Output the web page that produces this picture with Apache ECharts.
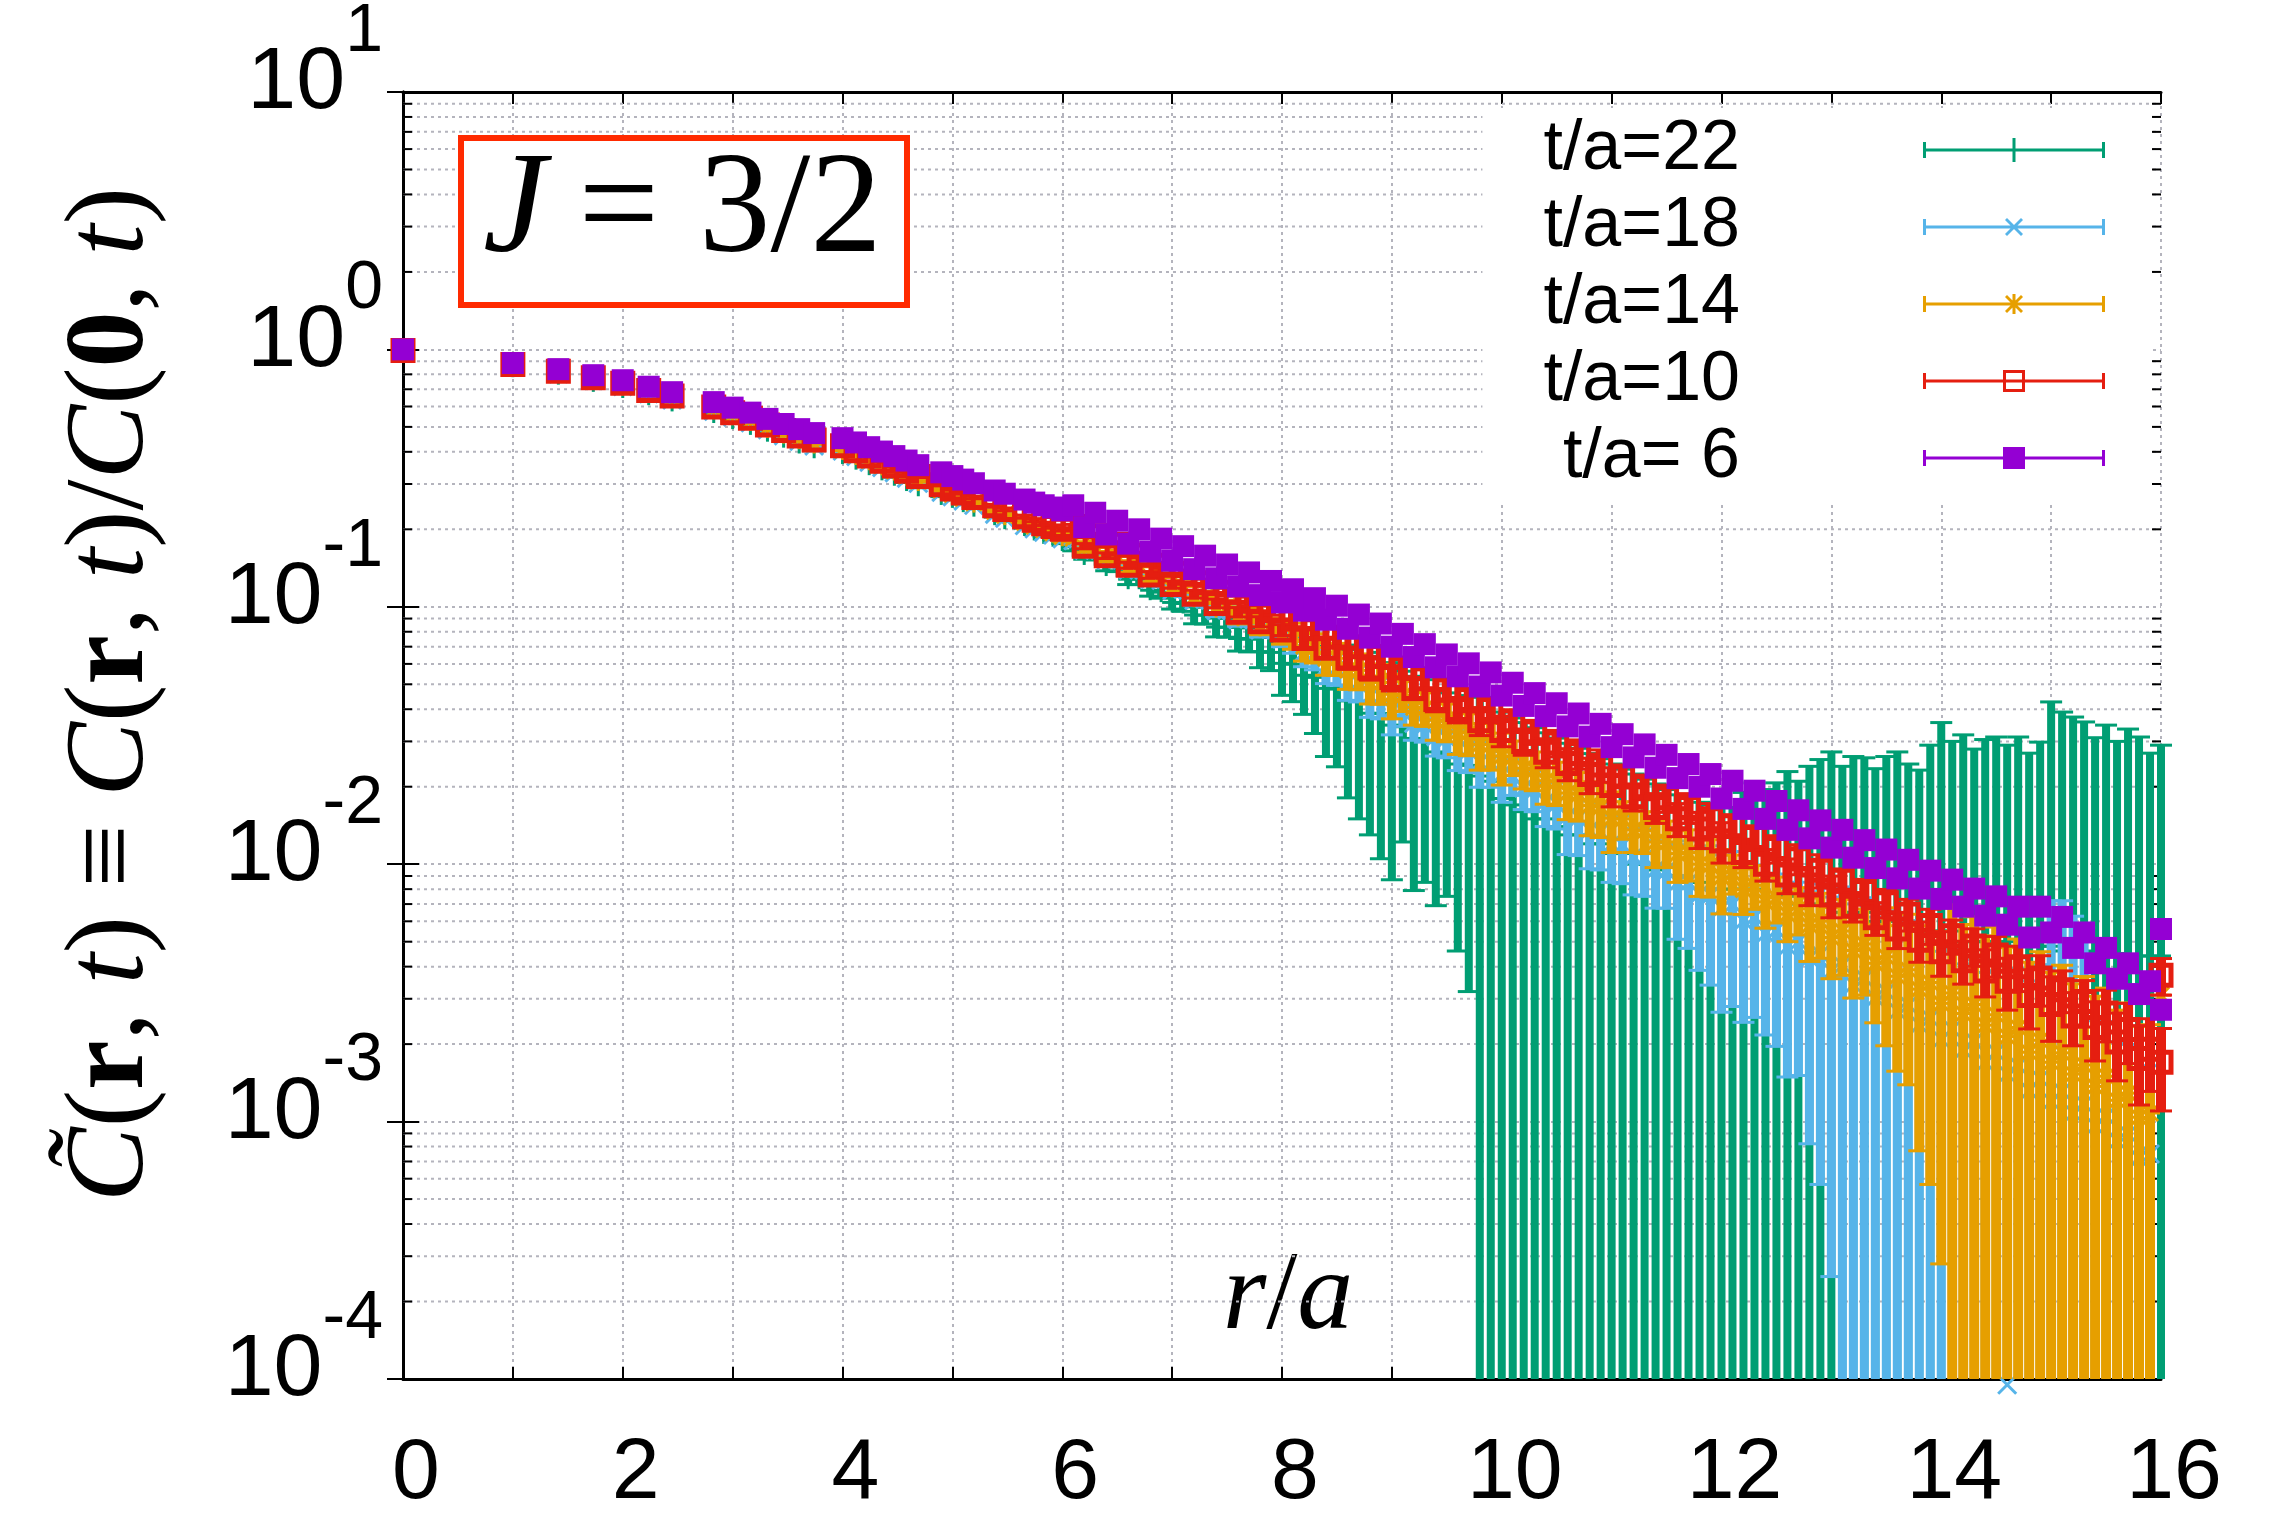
<!DOCTYPE html>
<html><head><meta charset="utf-8">
<script src="https://cdn.jsdelivr.net/npm/echarts@6/dist/echarts.min.js"></script>
<style>html,body{margin:0;padding:0;background:#fff}#c{width:2284px;height:1521px}</style>
</head><body><div id="c"></div>
<script>
// r/a positions (lattice distances, then dense part), plus two edge points at the end
const r = [0,1,1.414,1.732,2,2.236,2.449,2.828,3,3.162,3.317,3.464,3.606,3.742,4,4.123,4.243,4.359,4.472,4.583,4.69,4.899,5,5.099,5.196,5.385,5.477,5.657,5.745,5.831,5.916,6,
6.1,6.2,6.3,6.4,6.5,6.6,6.7,6.8,6.9,7,
7.1,7.2,7.3,7.4,7.5,7.6,7.7,7.8,7.9,8,
8.1,8.2,8.3,8.4,8.5,8.6,8.7,8.8,8.9,9,
9.1,9.2,9.3,9.4,9.5,9.6,9.7,9.8,9.9,10,
10.1,10.2,10.3,10.4,10.5,10.6,10.7,10.8,10.9,11,
11.1,11.2,11.3,11.4,11.5,11.6,11.7,11.8,11.9,12,
12.1,12.2,12.3,12.4,12.5,12.6,12.7,12.8,12.9,13,
13.1,13.2,13.3,13.4,13.5,13.6,13.7,13.8,13.9,14,
14.1,14.2,14.3,14.4,14.5,14.6,14.7,14.8,14.9,15,
15.1,15.2,15.3,15.4,15.5,15.6,15.7,15.8,15.9,16,
16,14.6];

// t/a = 6 (purple, filled squares)
const t6 = [1.0,0.885,0.838,0.794,0.759,0.716,0.682,0.624,0.594,0.568,0.537,0.513,0.49,0.473,0.452,0.435,0.417,0.401,0.385,0.37,0.355,0.333,0.322,0.312,0.302,0.283,0.275,0.261,0.254,0.248,0.243,0.237,
0.248,0.204,0.232,0.191,0.216,0.176,0.200,0.164,0.184,0.151,
0.172,0.140,0.158,0.129,0.146,0.120,0.136,0.111,0.126,0.104,
0.117,0.0966,0.108,0.0891,0.101,0.0822,0.0933,0.0759,0.0861,0.0700,
0.0785,0.0638,0.0716,0.0582,0.0653,0.0537,0.0603,0.0490,0.0556,0.0452,
0.0507,0.0412,0.0462,0.0376,0.0422,0.0343,0.0385,0.0313,0.0351,0.0285,
0.0320,0.0260,0.0292,0.0237,0.0266,0.0216,0.0245,0.0200,0.0224,0.0180,
0.0211,0.0164,0.0193,0.0150,0.0176,0.0136,0.0162,0.0126,0.0148,0.0116,
0.0136,0.0106,0.0124,0.00966,0.0114,0.00881,0.0104,0.00804,0.00944,0.00733,
0.00871,0.00684,0.00804,0.00631,0.00750,0.00582,0.00684,0.00519,0.00684,0.00543,
0.00624,0.00473,0.00543,0.00412,0.00473,0.00359,0.00412,0.00313,0.00351,0.00272,
0.0056,null];

// t/a = 10 (red, open squares)
const t10 = [0.991,0.873,0.822,0.776,0.738,0.693,0.659,0.597,0.568,0.54,0.509,0.484,0.461,0.445,0.422,0.404,0.385,0.368,0.352,0.336,0.321,0.298,0.287,0.277,0.266,0.247,0.239,0.224,0.217,0.21,0.205,0.2,
0.205,0.172,0.189,0.158,0.175,0.145,0.159,0.133,0.145,0.122,
0.135,0.112,0.124,0.103,0.114,0.0953,0.105,0.0875,0.0968,0.0813,
0.0897,0.0753,0.0822,0.0690,0.0762,0.0632,0.0700,0.0579,0.0641,0.0531,
0.0579,0.0481,0.0525,0.0436,0.0475,0.0399,0.0436,0.0361,0.0399,0.0331,
0.0361,0.0300,0.0327,0.0272,0.0296,0.0246,0.0269,0.0223,0.0243,0.0202,
0.0220,0.0183,0.0200,0.0166,0.0181,0.0150,0.0166,0.0137,0.0150,0.0123,
0.0141,0.0111,0.0127,0.0100,0.0115,0.00908,0.0105,0.00830,0.00948,0.00759,
0.00867,0.00686,0.00783,0.00619,0.00708,0.00560,0.00640,0.00506,0.00578,0.00457,
0.00527,0.00422,0.00481,0.00385,0.00444,0.00351,0.00400,0.00309,0.00361,0.00285,
0.00325,0.00257,0.00293,0.00232,0.00264,0.00204,0.00228,0.00176,0.00191,0.0017,
0.0037,null];
const t10Err = [0.004,0.004,0.004,0.004,0.004,0.004,0.004,0.004,0.004,0.004,0.004,0.004,0.004,0.004,0.003,0.003,0.003,0.003,0.003,0.003,0.003,0.003,0.003,0.003,0.003,0.003,0.003,0.003,0.003,0.003,0.003,0.003,
0.004,0.004,0.004,0.004,0.004,0.004,0.004,0.004,0.004,0.004,
0.004,0.004,0.004,0.004,0.004,0.004,0.004,0.004,0.004,0.004,
0.006,0.006,0.006,0.006,0.006,0.006,0.006,0.006,0.006,0.006,
0.0045,0.0045,0.0045,0.0045,0.0045,0.0045,0.0045,0.0045,0.0045,0.0045,
0.0035,0.0035,0.0035,0.0035,0.0035,0.0035,0.0035,0.0035,0.0035,0.0035,
0.0022,0.0022,0.0022,0.0022,0.0022,0.0022,0.0022,0.0022,0.0022,0.0022,
0.0014,0.0014,0.0014,0.0014,0.0014,0.0014,0.0014,0.0014,0.0014,0.0014,
0.0009,0.0009,0.0009,0.0009,0.0009,0.0009,0.0009,0.0009,0.0009,0.0009,
0.0008,0.0008,0.0008,0.0008,0.0008,0.0008,0.0008,0.0008,0.0008,0.0008,
0.0006,0.0006,0.0006,0.0006,0.0006,0.0006,0.0006,0.0006,0.0006,0.0006,
0.0006,0];

// t/a = 14 (orange, asterisks)
const t14 = [0.986,0.865,0.813,0.767,0.724,0.681,0.646,0.585,0.555,0.527,0.495,0.471,0.448,0.431,0.407,0.389,0.371,0.354,0.338,0.323,0.308,0.285,0.274,0.264,0.254,0.235,0.227,0.213,0.206,0.2,0.194,0.188,
0.185,0.169,0.170,0.156,0.157,0.142,0.143,0.131,0.130,0.119,
0.120,0.109,0.109,0.0993,0.100,0.0918,0.0925,0.0839,0.0845,0.0776,
0.0774,0.0705,0.0695,0.0632,0.0631,0.0568,0.0566,0.0509,0.0508,0.0457,
0.0452,0.0407,0.0403,0.0363,0.0359,0.0327,0.0324,0.0292,0.0292,0.0263,
0.0261,0.0236,0.0233,0.0211,0.0209,0.0189,0.0187,0.0169,0.0167,0.0151,
0.0150,0.0136,0.0135,0.0122,0.0122,0.0110,0.0111,0.0100,0.00995,0.00891,
0.00925,0.00798,0.00828,0.00714,0.00741,0.00640,0.00671,0.00579,0.00601,0.00519,
0.00550,0.00462,0.00490,0.00412,0.00437,0.00367,0.00389,0.00327,0.00347,0.00288,
0.00316,0.00263,0.00285,0.00237,0.00260,0.00214,0.00232,0.00186,0.00207,0.00170,
0.00185,0.00153,0.00166,0.00137,0.00150,0.00121,0.00129,0.00104,0.00108,0.0031,
null,null];
const t14Err = [0.003,0.003,0.003,0.003,0.003,0.003,0.003,0.003,0.003,0.003,0.003,0.003,0.003,0.003,0.003,0.003,0.003,0.003,0.003,0.003,0.003,0.003,0.003,0.003,0.003,0.003,0.003,0.003,0.003,0.003,0.003,0.003,
0.006,0.006,0.006,0.006,0.006,0.006,0.006,0.006,0.006,0.006,
0.006,0.006,0.006,0.006,0.006,0.006,0.006,0.006,0.006,0.006,
0.009,0.009,0.009,0.009,0.009,0.009,0.009,0.009,0.009,0.009,
0.006,0.006,0.006,0.006,0.006,0.006,0.006,0.006,0.006,0.006,
0.004,0.004,0.004,0.004,0.004,0.004,0.004,0.004,0.004,0.004,
0.0025,0.0025,0.0025,0.0025,0.0025,0.0025,0.0025,0.0025,0.0025,0.0025,
0.0016,0.0016,0.0016,0.0015,0.0015,0.0014,0.0014,0.0016,0.0017,0.0016,
0.0018,0.0016,0.0018,0.0017,0.0024,0.0021,0.0025,0.0025,0.0029,0.0026,
0.0038,0.0032,0.0034,0.0029,0.0031,0.0026,0.0028,0.0023,0.0025,0.0021,
0.0022,0.0019,0.002,0.0017,0.0018,0.0015,0.0016,0.0013,0.0013,0,
0,0];

// t/a = 18 (light blue, crosses)
const t18 = [0.982,0.861,0.805,0.759,0.718,0.673,0.637,0.575,0.547,0.519,0.488,0.462,0.44,0.422,0.403,0.384,0.365,0.348,0.332,0.316,0.302,0.279,0.268,0.258,0.248,0.229,0.221,0.207,0.201,0.195,0.19,0.184,
0.181,0.166,0.166,0.152,0.153,0.139,0.139,0.128,0.127,0.116,
0.117,0.106,0.107,0.0966,0.0973,0.0891,0.0897,0.0813,0.0818,0.0750,
0.0740,0.0665,0.0649,0.0583,0.0575,0.0513,0.0507,0.0452,0.0447,0.0398,
0.0393,0.0353,0.0348,0.0313,0.0309,0.0281,0.0277,0.0249,0.0249,0.0224,
0.0220,0.0198,0.0195,0.0175,0.0172,0.0154,0.0152,0.0136,0.0134,0.0120,
0.0119,0.0107,0.0106,0.00955,0.00944,0.00851,0.00851,0.00767,0.00759,0.00676,
0.00700,0.00603,0.00624,0.00537,0.00556,0.00479,0.00501,0.00432,0.00447,0.00385,
0.00406,0.00341,0.00361,0.00303,0.00320,0.00269,0.00284,0.00238,0.00252,0.00209,
0.00229,0.00190,0.00205,0.00170,0.00186,0.00153,0.00165,0.00132,0.00147,0.00120,
0.00131,0.00108,0.00117,0.000964,0.00105,0.000843,0.000895,0.000721,0.000748,null,
null,0.000095];
const t18Err = [0.003,0.003,0.003,0.003,0.003,0.003,0.003,0.003,0.003,0.003,0.003,0.003,0.003,0.003,0.003,0.003,0.003,0.003,0.003,0.003,0.003,0.003,0.003,0.003,0.003,0.003,0.003,0.003,0.003,0.003,0.003,0.003,
0.005,0.005,0.005,0.005,0.005,0.005,0.005,0.005,0.005,0.005,
0.005,0.005,0.005,0.005,0.005,0.005,0.005,0.005,0.005,0.005,
0.008,0.008,0.008,0.008,0.008,0.008,0.008,0.008,0.008,0.008,
0.005,0.005,0.005,0.005,0.005,0.005,0.005,0.005,0.005,0.005,
0.0035,0.0035,0.0035,0.0035,0.0035,0.0045,0.0044,0.004,0.0039,0.0035,
0.0035,0.0031,0.0031,0.0028,0.0027,0.0034,0.0038,0.0038,0.0042,0.0041,
0.0042,0.0036,0.0037,0.0032,0.0036,0.0033,0.0035,0.0035,0.0039,0.0036,
0.0041,0.0036,0.0038,0.0032,0.0034,0.0035,0.0032,0.0032,0.0028,0.0025,
0.0024,0.0022,0.0022,0.0021,0.002,0.0021,0.0023,0.0022,0.0026,0.006,
0.0059,0.0052,0.0045,0.0015,0.0014,0.0012,0.0011,0.0009,0.0009,0,
0,0];

// t/a = 22 (green, plus)
const t22 = [0.977,0.853,0.798,0.748,0.708,0.664,0.628,0.566,0.536,0.509,0.479,0.454,0.431,0.413,0.392,0.373,0.355,0.339,0.323,0.308,0.294,0.272,0.265,0.255,0.245,0.227,0.219,0.206,0.198,0.192,0.187,0.18,
0.171,0.159,0.158,0.144,0.143,0.128,0.128,0.116,0.114,0.104,
0.103,0.0929,0.0927,0.0834,0.0832,0.0753,0.0748,0.0670,0.0665,0.0603,
0.0598,0.0542,0.0532,0.0482,0.0479,0.0431,0.0430,0.0386,0.0385,0.0347,
0.0342,0.0308,0.0303,0.0273,0.0269,0.0245,0.0242,0.022,0.021,0.018,
0.017,0.016,0.015,0.015,0.014,0.013,0.013,0.012,0.012,0.011,
0.011,0.010,0.010,0.0095,0.009,0.009,0.0085,0.0085,0.008,0.008,
0.008,0.008,0.008,0.0075,0.0075,0.0075,0.007,0.007,0.007,0.007,
0.0065,0.0065,0.0065,0.006,0.006,0.006,0.006,0.0055,0.0055,0.0055,
0.0055,0.005,0.005,0.005,0.005,0.005,0.0048,0.0048,0.0048,0.0048,
0.0046,0.0046,0.0046,0.0045,0.0045,0.0045,0.0044,0.0044,0.0044,0.0044,
null,null];
const t22Err = [0.004,0.004,0.004,0.004,0.004,0.004,0.004,0.004,0.004,0.004,0.004,0.004,0.004,0.004,0.004,0.004,0.004,0.004,0.004,0.004,0.004,0.004,0.004,0.004,0.004,0.004,0.004,0.004,0.004,0.004,0.004,0.004,
0.006,0.006,0.006,0.006,0.006,0.006,0.006,0.006,0.006,0.006,
0.007,0.007,0.007,0.007,0.007,0.008,0.008,0.009,0.010,0.015,
0.017,0.016,0.021,0.022,0.024,0.025,0.028,0.0256,0.028,0.026,
0.022,0.0229,0.0218,0.0204,0.0194,0.0199,0.021,0.0225,0.023,0.021,
0.02,0.0195,0.0189,0.0174,0.0169,0.0165,0.0152,0.0149,0.0137,0.0135,
0.0124,0.0124,0.0114,0.011,0.0105,0.0096,0.0097,0.0089,0.009,0.0086,
0.0086,0.011,0.0127,0.012,0.0132,0.0154,0.014,0.017,0.0185,0.0203,
0.0175,0.0197,0.0194,0.0175,0.0202,0.0213,0.0185,0.0177,0.0235,0.03,
0.0245,0.0268,0.023,0.0255,0.0262,0.024,0.0264,0.0222,0.025,0.0379,
0.0344,0.0327,0.0311,0.0265,0.0302,0.0255,0.0291,0.0268,0.0226,0.0246,
0,0];

const xTicks = [0,2,4,6,8,10,12,14,16];

const seriesDefs = [
  {name:'t/a=22', vals:t22, errs:t22Err, color:'#009e73', mark:'plus',   barW:8},
  {name:'t/a=18', vals:t18, errs:t18Err, color:'#56b4e9', mark:'cross',  barW:9},
  {name:'t/a=14', vals:t14, errs:t14Err, color:'#e69f00', mark:'star',   barW:10},
  {name:'t/a=10', vals:t10, errs:t10Err, color:'#e51e10', mark:'open',   barW:10},
  {name:'t/a= 6', vals:t6,  errs:null,   color:'#9400d3', mark:'filled', barW:8}
];

const GRID_C = '#b4b4bd';
const CAP_W = 22, CAP_LW = 3, MK_LW = 3;

const ICON_BASE = 'M0 11.5h182v3H0zM0 5h3v16H0zM179 5h3v16h-3z';
const ICON_CROSS = 'M82 6L84 4L100 20L98 22ZM98 4L100 6L84 22L82 20Z';
const ICONS = {
  plus: 'path://' + ICON_BASE + 'M89.5 1h3v24h-3z',
  cross: 'path://' + ICON_BASE + ICON_CROSS,
  star: 'path://' + ICON_BASE + ICON_CROSS + 'M89.5 3h3v20h-3z',
  open: 'path://' + ICON_BASE + 'M80 2h22v22H80zM83 5v16h16V5z',
  filled: 'path://' + ICON_BASE + 'M80 2h22v22H80z'
};

function buildRender(mark, color, barW) {
  return function (params, api) {
    const x = api.value(0), v = api.value(1), e = api.value(2);
    const cs = params.coordSys;
    const top = cs.y, bottom = cs.y + cs.height;
    const p = api.coord([x, v]);
    const px = p[0], py = p[1];
    const ch = [];
    const ln = (x1, y1, x2, y2, w) => ({type:'line', shape:{x1, y1, x2, y2}, style:{stroke:color, lineWidth:w}});
    if (e > 0) {
      const hiY = api.coord([x, v + e])[1];
      const lo = v - e;
      const loY = lo > 0 ? api.coord([x, lo])[1] : bottom + 1000;
      const y1 = Math.max(hiY, top), y2 = Math.min(loY, bottom);
      if (y2 > y1) ch.push(ln(px, y1, px, y2, barW));
      [hiY, loY].forEach(yy => {
        if (yy >= top && yy <= bottom) ch.push(ln(px - CAP_W / 2, yy, px + CAP_W / 2, yy, CAP_LW));
      });
    }
    if (mark === 'plus') {
      ch.push(ln(px - 10, py, px + 10, py, MK_LW), ln(px, py - 10, px, py + 10, MK_LW));
    } else if (mark === 'cross') {
      ch.push(ln(px - 9, py - 9, px + 9, py + 9, MK_LW), ln(px - 9, py + 9, px + 9, py - 9, MK_LW));
    } else if (mark === 'star') {
      ch.push(ln(px - 10, py, px + 10, py, MK_LW), ln(px, py - 10, px, py + 10, MK_LW),
              ln(px - 8, py - 8, px + 8, py + 8, MK_LW), ln(px - 8, py + 8, px + 8, py - 8, MK_LW));
    } else if (mark === 'open') {
      ch.push({type:'rect', shape:{x:px - 10, y:py - 10, width:20, height:20}, style:{fill:'none', stroke:color, lineWidth:5}});
    } else {
      ch.push({type:'rect', shape:{x:px - 11, y:py - 11, width:22, height:22}, style:{fill:color}});
    }
    return {type:'group', children:ch};
  };
}

function items(vals, errs) {
  const out = [];
  for (let i = 0; i < r.length; i++) {
    if (vals[i] == null) continue;
    out.push([r[i], vals[i], errs ? (errs[i] || 0) : 0]);
  }
  return out;
}

// minor log ticks (2..9 x 10^k) for gnuplot-style grid
const minorTicks = [];
for (let k = -4; k <= 0; k++) for (let m = 2; m <= 9; m++) minorTicks.push(+(m * Math.pow(10, k)).toPrecision(2));

const series = [{
  type:'custom', silent:true, z:1, animation:false,
  data: minorTicks.map(v => [0, v]), encode:{x:0, y:1},
  renderItem: function (params, api) {
    const cs = params.coordSys;
    const y = api.coord([0, api.value(1)])[1];
    return {type:'group', children:[
      {type:'line', shape:{x1:cs.x, y1:y, x2:cs.x + cs.width, y2:y}, style:{stroke:GRID_C, lineWidth:2, lineDash:[3, 4]}},
      {type:'line', shape:{x1:cs.x, y1:y, x2:cs.x + 9, y2:y}, style:{stroke:'#000', lineWidth:2}},
      {type:'line', shape:{x1:cs.x + cs.width - 9, y1:y, x2:cs.x + cs.width, y2:y}, style:{stroke:'#000', lineWidth:2}}
    ]};
  }
}];
seriesDefs.forEach((d, i) => {
  series.push({
    type:'custom', name:d.name, silent:true, z:2 + i, animation:false,
    itemStyle:{color:d.color},
    data: items(d.vals, d.errs), encode:{x:0, y:1},
    renderItem: buildRender(d.mark, d.color, d.barW)
  });
});

const chart = echarts.init(document.getElementById('c'), null, {renderer:'canvas'});
chart.setOption({
  backgroundColor:'#fff',
  animation:false,
  textStyle:{fontFamily:'Liberation Sans'},
  title:{
    text:'{j|J}{e|=}{n|3/2}',
    left:461, top:138, padding:[4, 25, 20, 22],
    backgroundColor:'#fff', borderColor:'#ff2a00', borderWidth:6,
    textStyle:{fontWeight:'normal', fontFamily:'Liberation Serif', fontSize:143, rich:{
      j:{fontFamily:'Liberation Serif', fontStyle:'italic', fontWeight:'normal', fontSize:143, lineHeight:143, color:'#000'},
      e:{fontFamily:'Liberation Serif', fontWeight:'normal', fontSize:143, lineHeight:143, color:'#000', padding:[0, 40, 0, 32]},
      n:{fontFamily:'Liberation Serif', fontWeight:'normal', fontSize:143, lineHeight:143, color:'#000'}
    }}
  },
  legend:{
    orient:'vertical', right:132, top:108, align:'right',
    padding:[7, 47, 10, 61], itemGap:7, itemWidth:182, itemHeight:26,
    backgroundColor:'#fff', selectedMode:false,
    textStyle:{fontSize:70, fontFamily:'Liberation Sans', color:'#000', lineHeight:70, padding:[0, 178, 0, 0]},
    data: seriesDefs.map(d => ({name:d.name, icon:ICONS[d.mark]}))
  },
  grid:{left:403, right:123, top:92, bottom:142, containLabel:false, outerBoundsMode:'none'},
  xAxis:[{
    type:'value', min:0, max:16, interval:1, position:'bottom',
    axisLine:{show:true, onZero:false, lineStyle:{color:'#000', width:3}},
    axisTick:{show:true, inside:true, length:12, lineStyle:{color:'#000', width:2}},
    splitLine:{show:true, lineStyle:{color:GRID_C, width:2, type:[3, 4]}},
    axisLabel:{fontSize:86, fontFamily:'Liberation Sans', color:'#000', margin:52, padding:[0, 0, 0, 26],
      formatter: v => xTicks.indexOf(v) >= 0 ? String(v) : ''},
    name:'{i|r}/{i|a}', nameLocation:'middle', nameGap:-140,
    nameTextStyle:{fontFamily:'Liberation Serif', fontSize:112, lineHeight:120, color:'#000', padding:[0, 0, 0, 12],
      rich:{i:{fontFamily:'Liberation Serif', fontStyle:'italic', fontSize:112, lineHeight:120, color:'#000'}}}
  }, {
    type:'value', min:0, max:16, interval:1, position:'top',
    axisLine:{show:true, onZero:false, lineStyle:{color:'#000', width:3}},
    axisTick:{show:true, inside:true, length:12, lineStyle:{color:'#000', width:2}},
    splitLine:{show:false}, axisLabel:{show:false}
  }],
  yAxis:[{
    type:'log', logBase:10, min:1e-4, max:10, position:'left',
    axisLine:{show:true, lineStyle:{color:'#000', width:3}},
    axisTick:{show:true, inside:true, length:16, lineStyle:{color:'#000', width:2}},
    splitLine:{show:true, lineStyle:{color:GRID_C, width:2, type:[3, 4]}},
    axisLabel:{
      margin:20, padding:[0, 0, 58, 0],
      formatter: v => { const ex = Math.round(Math.log10(v)); return '{b|10}{s|' + (ex < 0 ? '-' + (-ex) : ex) + '}'; },
      rich:{
        b:{fontSize:88, fontFamily:'Liberation Sans', color:'#000', lineHeight:130, verticalAlign:'bottom'},
        s:{fontSize:68, fontFamily:'Liberation Sans', color:'#000', verticalAlign:'top'}
      }
    },
    name:'{i|C\u0303}({b|r}, {i|t}) \u2261 {i|C}({b|r}, {i|t})/{i|C}({b|0}, {i|t})',
    nameLocation:'middle', nameRotate:90, nameGap:230,
    nameTextStyle:{fontFamily:'Liberation Serif', fontSize:112, lineHeight:120, color:'#000', padding:[0, 0, 0, 82],
      rich:{
        i:{fontFamily:'Liberation Serif', fontStyle:'italic', fontSize:112, lineHeight:120, color:'#000'},
        b:{fontFamily:'Liberation Serif', fontWeight:'bold', fontSize:112, lineHeight:120, color:'#000'}
      }}
  }, {
    type:'log', logBase:10, min:1e-4, max:10, position:'right',
    axisLine:{show:true, lineStyle:{color:'#000', width:3}},
    axisTick:{show:true, inside:true, length:16, lineStyle:{color:'#000', width:2}},
    splitLine:{show:false}, axisLabel:{show:false}
  }],
  series: series
});
</script>
</body></html>
